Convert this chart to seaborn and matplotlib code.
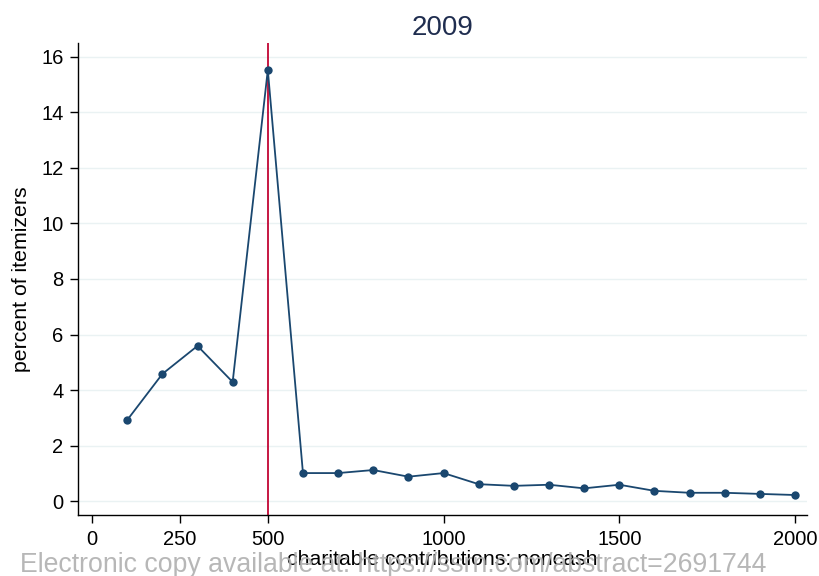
import matplotlib
matplotlib.use("Agg")
import matplotlib.pyplot as plt
import seaborn as sns
import pandas as pd

contrib = [100, 200, 300, 400, 500, 600, 700, 800, 900, 1000,
           1100, 1200, 1300, 1400, 1500, 1600, 1700, 1800, 1900, 2000]
percent = [2.92, 4.58, 5.59, 4.29, 15.53, 1.01, 1.01, 1.12, 0.88, 1.01,
           0.61, 0.55, 0.59, 0.46, 0.59, 0.37, 0.30, 0.30, 0.26, 0.22]
xticks = [0, 250, 500, 1000, 1500, 2000]
yticks = [0, 2, 4, 6, 8, 10, 12, 14, 16]
threshold = 500

sns.set_theme(style="white")
plt.rcParams['font.family'] = ['Liberation Sans', 'DejaVu Sans']

df = pd.DataFrame({"x": contrib, "y": percent})
fig = plt.figure(figsize=(8.2, 5.76), dpi=100)
ax = fig.add_axes([78/820, 1 - 515/576, (807-78)/820, (515-43)/576])

navy = "#1a476f"
for t in yticks:
    ax.axhline(t, color="#eaf2f3", lw=1.0, zorder=0)
ax.axvline(threshold, color="#c10534", lw=1.3, zorder=1)
sns.lineplot(data=df, x="x", y="y", ax=ax, color=navy, lw=1.3,
             marker="o", markersize=6, markeredgewidth=0, zorder=3)

ax.set_xlim(-40, 2034)
ax.set_ylim(-0.5, 16.5)
ax.set_xticks(xticks)
ax.set_yticks(yticks)
ax.tick_params(axis="both", which="both", direction="out", length=6, width=1,
               color="black", labelsize=14.5, labelcolor="black", bottom=True, left=True, pad=4.5)
for s in ["top", "right"]:
    ax.spines[s].set_visible(False)
for s in ["left", "bottom"]:
    ax.spines[s].set_color("black")
    ax.spines[s].set_linewidth(1)
ax.set_xlabel("charitable contributions: noncash", fontsize=15.3, color="black", labelpad=1)
ax.set_ylabel("percent of itemizers", fontsize=15.3, color="black", labelpad=7)
ax.set_title("2009", fontsize=20, color="#1f2d4f", pad=6)

fig.text(20/820, 1 - 565/576, "Electronic copy available at: https://ssrn.com/abstract=2691744",
         fontsize=19.2, color="#b0b0b0", va="center", ha="left", alpha=0.9)

fig.savefig("out.png", dpi=100)
